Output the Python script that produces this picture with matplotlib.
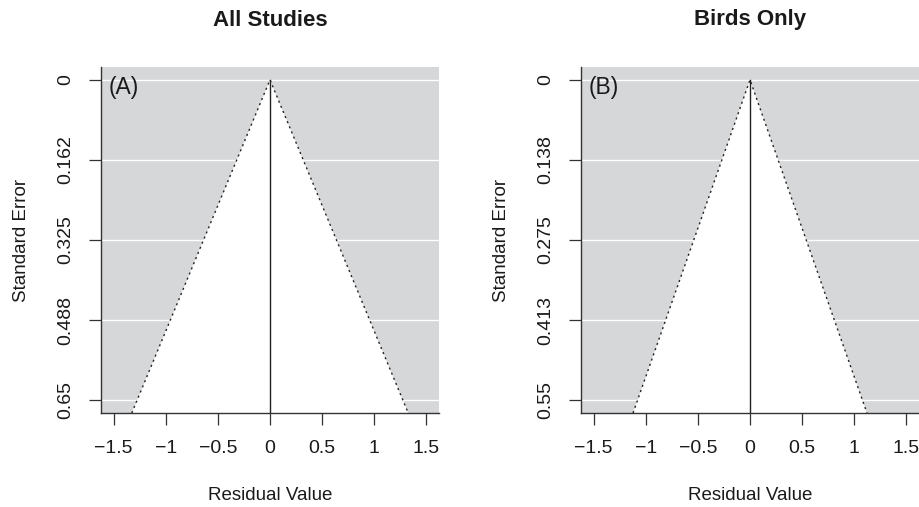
import numpy as np
import matplotlib
matplotlib.use("Agg")
import matplotlib.pyplot as plt

plt.rcParams['font.family'] = ['Liberation Sans', 'DejaVu Sans']

titles = ["All Studies", "Birds Only"]
panel_tags = ["(A)", "(B)"]
se_max = [0.65, 0.55]
y_ticks = [[0, 0.1625, 0.325, 0.4875, 0.65], [0, 0.1375, 0.275, 0.4125, 0.55]]
y_ticklabels = [["0", "0.162", "0.325", "0.488", "0.65"], ["0", "0.138", "0.275", "0.413", "0.55"]]
x_ticks = [-1.5, -1, -0.5, 0, 0.5, 1, 1.5]
x_ticklabels = ["\u22121.5", "\u22121", "\u22120.5", "0", "0.5", "1", "1.5"]
center = 0.0
z = 1.96

W, H = 919, 507
fig = plt.figure(figsize=(W / 100, H / 100), dpi=100)
grey = "#d6d7d9"
txt = "#1a1a1a"
fs_tick = 14
fs_lab = 13.5

lefts = [101, 581]
ax_top, ax_bot = 67, 413
ax_w = 338
for i in range(2):
    ax = fig.add_axes([lefts[i] / W, (H - ax_bot) / H, ax_w / W, (ax_bot - ax_top) / H])
    sm = se_max[i]
    ext = 0.04 * sm
    ylo, yhi = -ext, sm + ext
    xlo, xhi = -1.5 - 0.12, 1.5 + 0.12
    ax.set_xlim(xlo, xhi)
    ax.set_ylim(yhi, ylo)
    ax.set_facecolor(grey)
    xb = z * yhi
    ax.fill([center - xb, center, center + xb], [yhi, 0, yhi], color="white", zorder=1, lw=0)
    for t in y_ticks[i]:
        ax.axhline(t, color="white", lw=1.0, zorder=0.5)
    ax.plot([center - xb, center, center + xb], [yhi, 0, yhi], color="#222222", lw=1.0,
            linestyle=(0, (1.5, 2.5)), zorder=3)
    ax.plot([center, center], [0, yhi], color="#222222", lw=1.0, zorder=3)
    ax.set_xticks(x_ticks)
    ax.set_xticklabels(x_ticklabels, fontsize=fs_tick, color=txt)
    ax.set_yticks(y_ticks[i])
    ax.set_yticklabels(y_ticklabels[i], fontsize=fs_tick, rotation=90, va="center", color=txt)
    ax.tick_params(direction="out", length=8.5, width=0.9, color="#333333")
    ax.tick_params(axis="x", pad=11)
    ax.tick_params(axis="y", pad=11)
    for s in ["top", "right"]:
        ax.spines[s].set_visible(False)
    for s in ["left", "bottom"]:
        ax.spines[s].set_color("#333333")
        ax.spines[s].set_linewidth(1.0)
    ax.set_xlabel("Residual Value", fontsize=fs_lab, color=txt)
    ax.xaxis.set_label_coords(0.5, (ax_bot - 495) / (ax_bot - ax_top))
    ax.xaxis.label.set_va("center")
    ax.set_ylabel("Standard Error", fontsize=fs_lab, color=txt)
    ax.yaxis.set_label_coords(-79 / ax_w, 0.5)
    ax.yaxis.label.set_va("center")
    ax.text(0.022, 0.975, panel_tags[i], transform=ax.transAxes, fontsize=16.5, va="top", ha="left",
            zorder=5, color=txt)
    fig.text((lefts[i] + ax_w / 2) / W, 1 - 20 / H, titles[i], fontsize=16, fontweight="bold",
             ha="center", va="center", color=txt)

fig.savefig("out.png", dpi=100)
